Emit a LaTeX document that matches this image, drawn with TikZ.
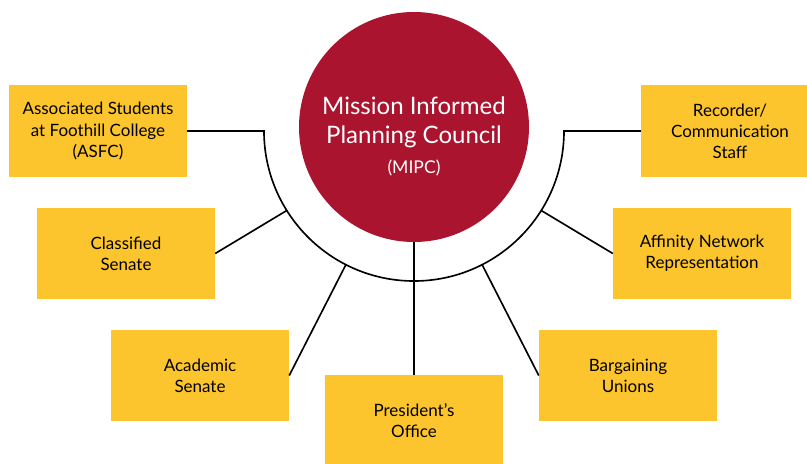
\documentclass[tikz,border=0pt]{standalone}
\usepackage{fontspec}
\setmainfont{Lato}
\usepackage{tikz}

\definecolor{mipcred}{RGB}{171,20,46}
\definecolor{groupgold}{RGB}{253,197,45}

\begin{document}
\begin{tikzpicture}[
            x=0.03cm, y=0.03cm,
            group/.style={fill=groupgold, minimum width=5.34cm, minimum height=2.73cm,
                align=center, inner sep=0pt, font=\fontsize{14.5}{18}\selectfont},
            link/.style={line width=1.4pt}
        ]
            \useasboundingbox (0,0) rectangle (807,463);

            \node [circle, fill=mipcred, minimum size=6.9cm, inner sep=0pt] (mipc) at (414,336) {};
            \node [text=white, align=center, font=\fontsize{20.5}{25}\selectfont] (mipctitle)
                at ([yshift=-8pt]mipc.center)
                {Mission Informed\\Planning Council\\{\fontsize{15}{26}\selectfont (MIPC)}};

            \node [group] (asfc) at (98,332) {Associated Students\\at Foothill College\\(ASFC)};
            \node [group] (classified) at (126,209.5) {Classified\\Senate};
            \node [group] (academic) at (200,87.5) {Academic\\Senate};
            \node [group] (president) at (414,42.5) {President's\\Office};
            \node [group] (bargaining) at (628,87.5) {Bargaining\\Unions};
            \node [group] (affinity) at (702,209.5) {Affinity Network\\Representation};
            \node [group] (recorder) at (730,332) {Recorder/\\Communication\\Staff};

            \coordinate (hub) at (414,332);
            \path (hub) ++(180:4.5cm) coordinate (arcl);
            \draw [link] (asfc.east) -- (arcl) arc[start angle=180, end angle=360, radius=4.5cm] -- (recorder.west);

            \foreach \a/\g/\side in {212/classified/east, 243/academic/east, 297/bargaining/west, 328/affinity/west} {
                \draw [link] (hub) ++(\a:4.5cm) coordinate (j\g) -- (\g.\side);
            }
            \draw [link] (mipc.south) -- (president.north);
        \end{tikzpicture}
\end{document}
